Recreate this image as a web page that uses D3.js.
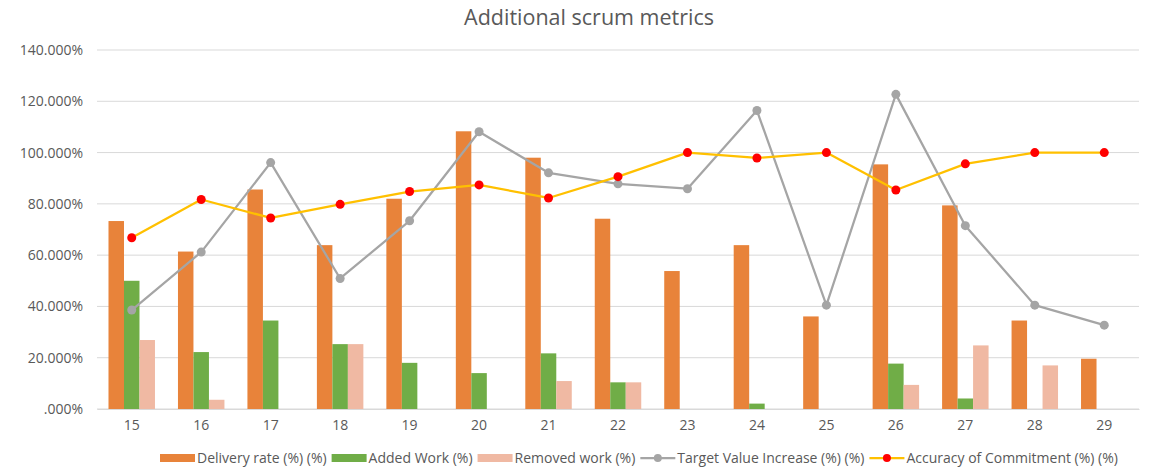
<!DOCTYPE html>
<html>
<head>
<meta charset="utf-8">
<script src="https://cdn.jsdelivr.net/npm/d3@7"></script>
<style>
  body { margin: 0; background: #fff; }
  text { font-family: "Open Sans", "DejaVu Sans", sans-serif; fill: #595959; }
</style>
</head>
<body>
<div id="chart"></div>
<script>
// sprint numbers
var sprints = ["15", "16", "17", "18", "19", "20", "21", "22", "23", "24", "25", "26", "27", "28", "29"];

// bar series (%)
var deliveryRate = [73.3, 61.4, 85.6, 63.9, 82.0, 108.3, 98.0, 74.2, 53.8, 63.9, 36.1, 95.4, 79.4, 34.5, 19.6];
var addedWork = [50.0, 22.2, 34.5, 25.3, 18.0, 14.0, 21.7, 10.4, 0, 2.1, 0, 17.7, 4.1, 0, 0];
var removedWork = [26.9, 3.6, 0, 25.3, 0, 0, 10.9, 10.4, 0, 0, 0, 9.4, 24.8, 17.0, 0];

// line series (%)
var targetValue = [38.6, 61.2, 96.1, 50.9, 73.4, 108.1, 92.1, 87.8, 85.9, 116.4, 40.5, 122.7, 71.5, 40.5, 32.7];
var accuracy = [66.8, 81.7, 74.5, 79.8, 84.8, 87.4, 82.3, 90.6, 100, 97.9, 100, 85.4, 95.6, 100, 100];

var yTicks = [0, 20, 40, 60, 80, 100, 120, 140];

var barSeries = [
  { name: "Delivery rate (%) (%)", values: deliveryRate, color: "#E8833A" },
  { name: "Added Work (%)", values: addedWork, color: "#70AD47" },
  { name: "Removed work (%)", values: removedWork, color: "#F0B9A3" }
];
var lineSeries = [
  { name: "Target Value Increase (%) (%)", values: targetValue, color: "#A5A5A5", marker: "#A5A5A5" },
  { name: "Accuracy of Commitment (%) (%)", values: accuracy, color: "#FFC000", marker: "#FF0000" }
];

var svgWidth = 1153;
var svgHeight = 468;
var margin = { top: 50, right: 14, bottom: 59, left: 97 };
var chartWidth = svgWidth - margin.left - margin.right;
var chartHeight = svgHeight - margin.top - margin.bottom;

var svg = d3.select("#chart")
  .append("svg")
  .attr("width", svgWidth)
  .attr("height", svgHeight);

// title
svg.append("text")
  .attr("x", 589)
  .attr("y", 25)
  .attr("text-anchor", "middle")
  .style("font-size", "21.5px")
  .text("Additional scrum metrics");

var chartGroup = svg.append("g")
  .attr("transform", `translate(${margin.left}, ${margin.top})`);

var x = d3.scaleBand().domain(sprints).range([0, chartWidth]).paddingInner(0).paddingOuter(0);
var y = d3.scaleLinear().domain([0, 140]).range([chartHeight, 0]);

var barW = x.bandwidth() * 0.223;
var xBar = d3.scaleBand().domain(d3.range(3)).range([0, barW * 3]);

// gridlines
chartGroup.append("g")
  .selectAll("line")
  .data(yTicks)
  .enter()
  .append("line")
  .attr("x1", 0)
  .attr("x2", chartWidth)
  .attr("y1", d => y(d))
  .attr("y2", d => y(d))
  .attr("stroke", "#D9D9D9")
  .attr("stroke-width", 1);

// y axis
var leftAxis = d3.axisLeft(y).tickValues(yTicks).tickSize(0).tickPadding(14)
  .tickFormat(d => (d === 0 ? ".000" : d3.format(".3f")(d)) + "%");
var gy = chartGroup.append("g").call(leftAxis);
gy.select(".domain").remove();
gy.selectAll("text").style("font-size", "14px").attr("fill", "#595959");

// x axis
var bottomAxis = d3.axisBottom(x).tickSize(0).tickPadding(11);
var gx = chartGroup.append("g")
  .attr("transform", `translate(0, ${chartHeight})`)
  .call(bottomAxis);
gx.select(".domain").attr("stroke", "#D9D9D9");
gx.selectAll("text").style("font-size", "14px").attr("fill", "#595959");

// bars
barSeries.forEach(function(s, i) {
  chartGroup.append("g")
    .selectAll("rect")
    .data(s.values)
    .enter()
    .append("rect")
    .attr("x", (d, j) => x(sprints[j]) + (x.bandwidth() - barW * 3) / 2 + xBar(i))
    .attr("y", d => y(d))
    .attr("width", barW)
    .attr("height", d => chartHeight - y(d))
    .attr("fill", s.color);
});

// lines
var line = d3.line()
  .x((d, j) => x(sprints[j]) + x.bandwidth() / 2)
  .y(d => y(d));

lineSeries.forEach(function(s) {
  chartGroup.append("path")
    .datum(s.values)
    .attr("d", line)
    .attr("fill", "none")
    .attr("stroke", s.color)
    .attr("stroke-width", 2.25)
    .attr("stroke-linejoin", "round");
  chartGroup.append("g")
    .selectAll("circle")
    .data(s.values)
    .enter()
    .append("circle")
    .attr("cx", (d, j) => x(sprints[j]) + x.bandwidth() / 2)
    .attr("cy", d => y(d))
    .attr("r", 4.5)
    .attr("fill", s.marker);
});

// legend
var legend = svg.append("g").attr("transform", "translate(0, 458)");
var lx = 160;
barSeries.forEach(function(s) {
  legend.append("rect").attr("x", lx).attr("y", -4).attr("width", 35).attr("height", 8).attr("fill", s.color);
  var t = legend.append("text").attr("x", lx + 37).attr("y", 5).style("font-size", "14px").text(s.name);
  lx += 37 + t.node().getComputedTextLength() + 5;
});
lineSeries.forEach(function(s) {
  legend.append("line").attr("x1", lx).attr("x2", lx + 35).attr("y1", 0).attr("y2", 0)
    .attr("stroke", s.color).attr("stroke-width", 2.25);
  legend.append("circle").attr("cx", lx + 17.5).attr("cy", 0).attr("r", 4).attr("fill", s.marker);
  var t = legend.append("text").attr("x", lx + 37).attr("y", 5).style("font-size", "14px").text(s.name);
  lx += 37 + t.node().getComputedTextLength() + 5;
});
</script>
</body>
</html>
